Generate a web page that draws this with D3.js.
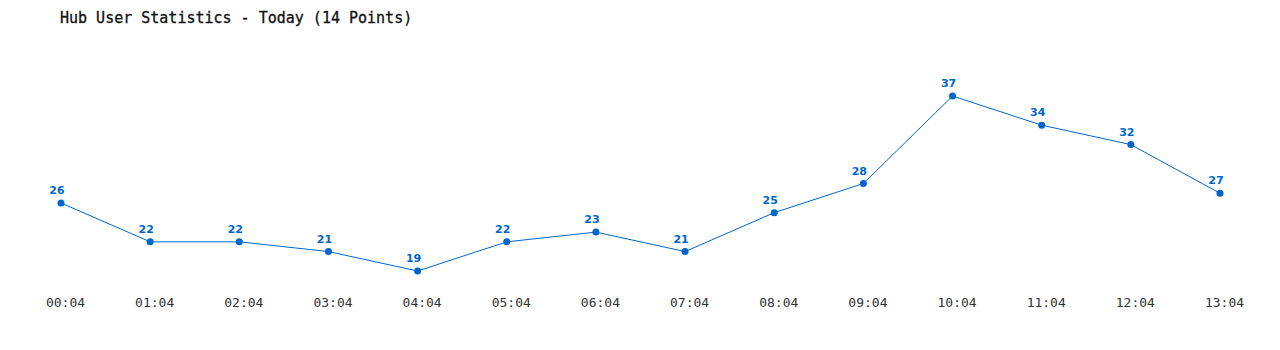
<!DOCTYPE html>
<html>
<head>
<meta charset="utf-8">
<script src="https://cdn.jsdelivr.net/npm/d3@7"></script>
<style>
  body { margin: 0; background: #fff; }
  svg { display: block; }
</style>
</head>
<body>
<svg id="chart" width="1280" height="350"></svg>
<script>
// data
const times = ['00:04', '01:04', '02:04', '03:04', '04:04', '05:04', '06:04',
  '07:04', '08:04', '09:04', '10:04', '11:04', '12:04', '13:04'];
const users = [26, 22, 22, 21, 19, 22, 23, 21, 25, 28, 37, 34, 32, 27];
const title = 'Hub User Statistics - Today (14 Points)';

const blue = '#0066cc';
const svg = d3.select('#chart');

// x spans first to last point, y fitted to min/max
const x = d3.scalePoint().domain(times).range([61, 1220]);
const y = d3.scaleLinear().domain([19, 37]).range([271, 96]);

svg.append('text')
  .attr('x', 60)
  .attr('y', 23)
  .style('font-family', '"DejaVu Sans Mono", monospace')
  .style('font-size', '15px')
  .style('fill', '#111')
  .style('stroke', '#111')
  .style('stroke-width', 0.3)
  .text(title);

// bottom axis, no line or ticks, just the labels
const xAxis = d3.axisBottom(x).tickSize(0).tickPadding(0);
const gx = svg.append('g')
  .attr('transform', 'translate(4,298)')
  .call(xAxis);
gx.select('.domain').remove();
gx.selectAll('text')
  .attr('dy', '0.71em')
  .style('font-family', '"DejaVu Sans Mono", monospace')
  .style('font-size', '13px')
  .style('fill', '#333');

const pts = times.map((t, i) => ({ t: t, v: users[i] }));

const line = d3.line()
  .x(d => x(d.t))
  .y(d => y(d.v));

svg.append('path')
  .datum(pts)
  .attr('d', line)
  .attr('fill', 'none')
  .attr('stroke', blue)
  .attr('stroke-width', 1);

svg.selectAll('circle.pt')
  .data(pts)
  .join('circle')
  .attr('class', 'pt')
  .attr('cx', d => x(d.t))
  .attr('cy', d => y(d.v))
  .attr('r', 3.5)
  .attr('fill', blue);

// value labels sit a bit left of their dot
svg.selectAll('text.val')
  .data(pts)
  .join('text')
  .attr('class', 'val')
  .attr('x', d => x(d.t) - 4)
  .attr('y', d => y(d.v) - 9)
  .attr('text-anchor', 'middle')
  .style('font-family', '"DejaVu Sans", sans-serif')
  .style('font-weight', 'bold')
  .style('font-size', '11px')
  .style('fill', blue)
  .text(d => d.v);
</script>
</body>
</html>
